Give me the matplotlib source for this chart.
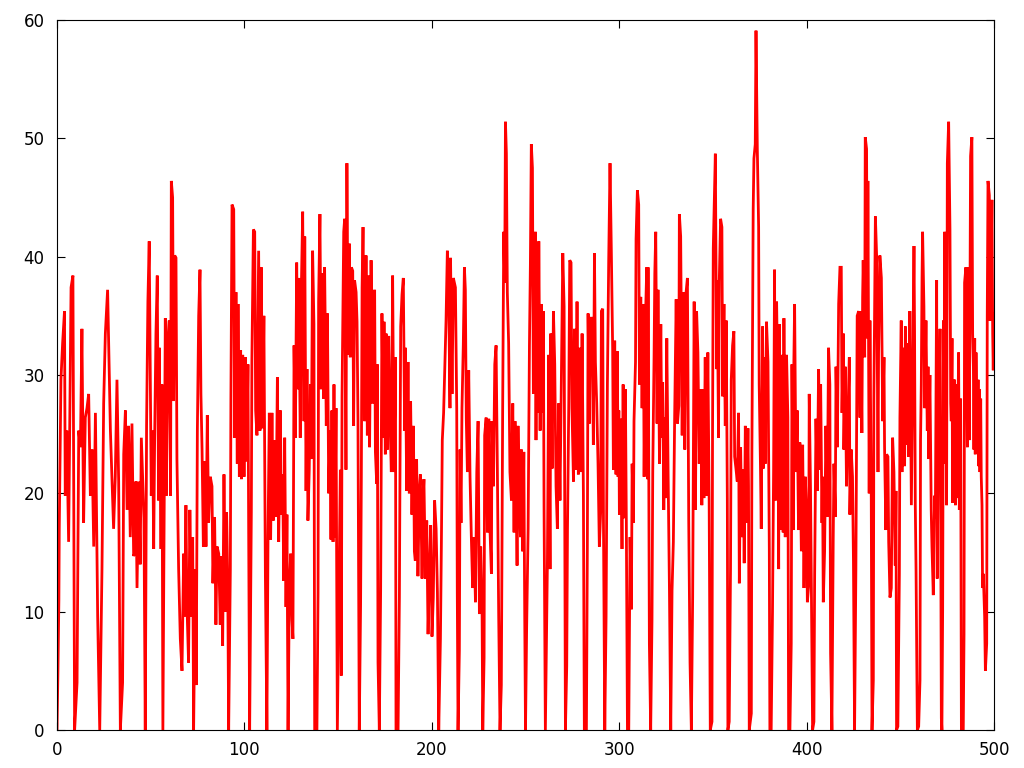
import matplotlib
matplotlib.use("Agg")
import matplotlib.pyplot as plt
import numpy as np

# Series, in consecutive x ranges
x_a = [0, 0.5, 1, 1.2, 2.1, 3, 4, 4.4, 5.2, 6.2, 7.5, 8.5, 9.4, 10.7, 11.6, 12.5, 13.3, 14.2, 15.1, 16, 16.9, 17.8, 18.7, 19.6, 20.5, 21.7, 22.8, 24, 24.9, 25.8, 27, 27.9, 28.5, 29.3, 30.2, 31.1, 32, 32.9, 33.8, 35, 35.6, 36.5, 37.4, 38.2, 39.1, 40, 40.9]
y_a = [0, 5, 11, 17, 29.6, 32.7, 35.4, 19.8, 25.3, 15.9, 37.4, 38.4, 0, 4, 25.3, 23.9, 33.9, 17.5, 26.4, 27.2, 28.4, 19.8, 23.7, 15.5, 26.8, 9.6, 0, 13.6, 27.6, 33.5, 37.2, 30, 25.3, 21.4, 17, 21.4, 29.6, 21, 0, 4, 23.3, 27, 18.6, 25.7, 16.3, 25.9, 14.7]

x_b = [41.4, 42.1, 42.7, 43.6, 44.4, 45, 45.7, 46.4, 47.1, 47.8, 48.5, 49.2, 50, 50.3, 51, 51.6, 52.1, 52.8, 53.5, 54.2, 54.6, 55.5, 56, 56.5, 57.8, 58.3, 59.2, 59.9, 60.6, 61, 61.7, 62.2, 62.8, 63.5, 64, 64.9, 65.8, 66.7, 67.6, 68.1, 68.8, 69.3, 70.2, 70.9, 71.7, 72.4, 72.9, 73.8, 74.3, 74.9, 75.6, 76.3, 76.8, 77.4, 78.1, 78.8, 79.5, 80.2, 80.9, 81.8]
y_b = [14.9, 21, 12, 21, 14, 24.7, 21.4, 17.9, 0, 25.7, 36.2, 41.3, 25.7, 19.8, 25.3, 15.3, 24.5, 33.5, 38.4, 19.4, 32.3, 15.3, 29.2, 0, 34.8, 19.8, 33, 34.6, 19.8, 46.4, 45, 27.8, 40.1, 39.9, 22.9, 13.6, 7.7, 5, 14.9, 9.6, 19, 10.8, 5.7, 18.6, 9.6, 16.3, 0, 13.6, 3.8, 25.3, 35, 38.9, 28.4, 23.7, 15.5, 22.7, 15.5, 26.6, 17.5, 21.4]

x_c = [82.7, 83.2, 84.1, 84.8, 85.4, 86.3, 87.1, 87.7, 88.4, 89.1, 89.8, 90.5, 91.1, 91.6, 92.5, 92.8, 93.4, 94.3, 94.8, 95.5, 96.2, 96.6, 97.3, 98, 98.4, 99.1, 99.8, 100.5, 101.2, 101.9, 102.3, 102.8, 103.7, 104, 104.8, 105.5, 106, 106.7, 107.6, 108.3, 109, 109.7, 110.4, 111.2, 112, 112.6, 113.3, 114, 114.7, 115.4, 116.1, 116.9, 117.6, 118.3, 119.2, 119.7, 120.4, 121, 121.5, 122.2, 122.7, 123.3, 124, 124.7, 125.4]
y_c = [20.6, 12.4, 18, 8.9, 15.5, 14.9, 8.9, 14.7, 7.1, 21.6, 10, 18.4, 12.8, 0, 13.6, 28, 44.4, 44, 24.7, 37, 22.5, 36, 21.4, 32.1, 21.2, 31.7, 21.4, 31.5, 22.7, 30.9, 16.1, 0, 18.4, 31.3, 42.3, 42.1, 27, 24.9, 40.5, 25.3, 39.1, 25.5, 35, 13, 0, 16.3, 26.8, 16.1, 26.8, 17.7, 24.5, 18, 29.8, 15.9, 27, 18.2, 21.6, 12.6, 24.7, 10.4, 18.2, 0, 12.2, 14.9, 9.3]

x_d = [125.9, 126.5, 127.2, 127.9, 128.6, 129, 129.8, 130.4, 131.1, 131.8, 132.2, 132.9, 133.4, 133.9, 134.6, 135.2, 135.7, 136.4, 137.1, 137.5, 138.7, 139.3, 139.6, 140.3, 141, 141.6, 142.3, 142.8, 143.7, 144.3, 145, 145.7, 146.2, 146.7, 147.3, 147.8, 148.3, 148.9, 149.6, 150.3, 151.2, 151.7, 152.1, 153, 153.5, 154.2, 154.7, 155.3, 156, 156.5, 157.1, 157.8, 158.3, 158.8, 159.6, 160.1, 160.6, 161.3, 162, 162.4, 162.8, 163.3, 164.2, 164.9, 165.6, 166.3, 166.8, 167.6, 168.4, 169, 169.5, 169.9]
y_d = [7.7, 32.5, 24.7, 39.5, 28.8, 38.2, 24.7, 37.4, 43.8, 26.1, 41.7, 20.2, 30.5, 17.7, 22, 29.2, 22.9, 40.5, 34.3, 0, 0, 11.6, 36.2, 43.6, 28.8, 38.6, 28, 39.1, 25.7, 35.2, 20, 25.3, 16.1, 27, 15.9, 29.2, 16.3, 27.2, 0, 9.6, 22, 4.6, 28.2, 42.1, 43.2, 22, 47.9, 31.7, 41.1, 31.5, 39.1, 38.8, 25.7, 38, 37, 34.5, 26.3, 0, 10.6, 21.4, 37.4, 42.5, 26.1, 40.1, 24.9, 38.4, 23.9, 39.7, 27.6, 35.8, 37.2, 23.5]

x_e = [170.6, 170.9, 171.3, 172, 172.7, 173.4, 174.1, 174.5, 175.2, 175.6, 176.3, 177, 177.7, 178.4, 179.1, 179.8, 180.6, 180.9, 182, 182.7, 183.4, 184.1, 184.8, 185.5, 185.9, 186.6, 187.3, 188, 188.7, 189.4, 190.2, 190.7, 191.2, 191.9, 192.6, 193.4, 193.9, 194.8, 195.3, 195.8, 196.6, 197.3, 198, 198.7, 199.4, 200.1, 200.8, 201.5, 202.3, 203, 203.7, 204.6, 205.1, 205.6, 206.3, 206.9, 207.6, 208.3, 209, 209.7, 210, 210.8, 211.5]
y_e = [20.8, 30.9, 5.7, 0, 11.8, 35.2, 24.7, 34.5, 23.3, 33.5, 23.7, 33.3, 26.1, 21.8, 38.4, 21.8, 31.5, 0, 0, 11.2, 34.1, 36.8, 38.2, 25.3, 32.3, 20.2, 31.1, 20, 27.8, 18.2, 25.7, 15.1, 14.3, 22.9, 13, 20.4, 21.6, 12.8, 19.4, 21.2, 12.8, 17.7, 8.1, 13.2, 17.3, 7.9, 11.2, 19.4, 17, 11.6, 0, 7.7, 15.5, 24.5, 26.8, 30.4, 34.6, 40.5, 37, 27.2, 39.9, 28.4, 38.2]

x_f = [212.6, 213.3, 213.6, 214, 214.7, 215.1, 215.6, 216.1, 216.8, 217.4, 217.9, 218.4, 219, 219.7, 220.4, 221.1, 221.8, 222.5, 223.3, 224, 224.7, 225.4, 226.1, 226.8, 227.2, 227.9, 228.2, 229, 229.7, 230.4, 231.1, 231.8, 232.1, 232.9, 233.6, 234.3, 235, 235.7, 236.4, 237.1, 237.8, 238.4, 238.9, 239.3, 239.8, 240.3, 241, 241.7, 242.5, 243.2, 243.9, 244.4, 245, 245.5, 246, 246.7, 247.3, 247.8, 248.5, 249.1, 249.6, 250, 250.6, 251.4, 252.1, 252.6, 253.1, 253.7, 254.2]
y_f = [37.4, 27.2, 11.6, 0, 6.7, 23.7, 17.5, 27.2, 32.5, 39.1, 37.2, 26.3, 21.8, 30.4, 21.4, 16.3, 12, 16.3, 10.8, 21.8, 26.1, 9.8, 15.5, 10.8, 0, 6.1, 24.9, 26.4, 16.7, 26.3, 16.7, 13.2, 26.1, 20.6, 30.9, 32.5, 21.8, 9.6, 0, 3.8, 26.8, 42.1, 37.8, 51.4, 48.7, 37, 32.7, 21.8, 19.4, 27.6, 16.7, 26.1, 21, 13.9, 25.7, 19.2, 16.3, 23.7, 15.1, 23.5, 9.3, 0, 8.5, 17, 32.5, 39.3, 49.5, 47.5, 28.4]

x_g = [255.3, 255.6, 256, 256.7, 257.1, 257.8, 258.5, 259.2, 259.5, 259.9, 260.6, 261.3, 261.7, 262.4, 263.1, 263.5, 264.2, 264.9, 265.6, 266.3, 267, 267.7, 268.4, 269.2, 269.9, 270.6, 271.3, 272, 272.4, 273.1, 273.6, 274.3, 274.8, 275.6, 276.1, 276.8, 277.5, 278.2, 278.9, 279.6, 280.2, 280.9, 281.4, 282.5, 283, 283.4, 284.1, 284.6, 285.5, 286.2, 286.8, 287.3, 288, 288.7, 289.4, 290.1, 290.5, 291.2, 291.6, 292.3, 293, 293.7, 294.4, 295.1, 295.8, 296.5, 296.9, 297.6]
y_g = [42.1, 24.5, 38.6, 26.8, 41.3, 25.3, 36, 26.8, 35.4, 18.8, 0, 8.9, 14.3, 31.7, 13.6, 33.5, 22.1, 35.4, 30.9, 20.6, 17, 27.6, 19.4, 30.7, 40.3, 35.8, 0, 5.4, 17, 27.8, 39.7, 39.5, 27.2, 21, 33.9, 22, 36.2, 21.6, 32.3, 21.8, 33.5, 19.8, 0, 0, 15.5, 35.2, 25.9, 34.8, 34.8, 24.1, 40.3, 31.1, 27.6, 22.5, 15.5, 18.4, 35.4, 35.6, 17.7, 0, 9.6, 29.2, 39.7, 47.9, 40.5, 32.3, 22, 32.9]

x_h = [298.3, 299, 299.4, 299.8, 300.1, 300.8, 301.5, 302.1, 302.6, 303.3, 303.8, 304.4, 305.1, 305.8, 306.5, 306.9, 307.6, 307.9, 308.7, 309, 309.7, 310.4, 310.8, 311.5, 312.2, 312.9, 313.3, 314, 314.7, 315.1, 315.4, 316.1, 316.8, 317.5, 317.9, 318.6, 319, 319.5, 320.2, 320.7, 321.5, 322.2, 322.7, 323.2, 323.8, 324.3, 324.7, 325.4, 326.1, 326.8, 327.5, 328.2, 328.9, 329.6, 330.4, 331.1, 331.8, 332.1, 332.8, 333.6, 334.3, 335, 335.7, 336.4, 337.1, 337.8, 338.5, 339.2, 340, 340.7]
y_h = [21.6, 32, 21.4, 27, 18.2, 26.3, 15.3, 29.2, 17.9, 28.8, 17.7, 0, 0, 16.3, 10.2, 22.5, 17.5, 26.1, 31.1, 41.5, 45.6, 44.4, 29.2, 36.6, 27.2, 36, 21.4, 34.6, 39.1, 21.2, 39.1, 7.3, 0, 9.3, 21.8, 31.5, 38.6, 42.1, 25.9, 37.2, 22.5, 34.3, 24.7, 29.4, 18.6, 26.4, 19.6, 33.1, 21.6, 12, 0, 11.8, 15.9, 26.6, 36.4, 25.9, 27.4, 43.6, 41.7, 24.9, 37, 23.7, 37, 38.2, 17.7, 5.7, 0, 11.2, 36.2, 18.6]

x_i = [341.3, 342, 342.7, 343.4, 344.1, 344.5, 345.2, 345.9, 346.6, 347.3, 348, 348.6, 349.5, 349.8, 350.2, 350.9, 351.3, 352, 352.3, 353, 353.4, 354.1, 354.8, 355.2, 355.9, 356.6, 357.1, 357.7, 358, 358.7, 359.4, 359.8, 360.5, 361.2, 361.6, 362.3, 363, 363.7, 364.1, 364.8, 365.5, 366.2, 366.7, 367.3, 368, 368.7, 369, 369.4, 370.5, 370.8, 371.5, 371.9, 372.6, 373, 373.7, 374.4, 374.7, 375.4, 375.8, 376.5, 376.9, 377.2, 377.9, 378.6, 379.4, 380.1, 380.4, 381.1, 381.8, 382.4, 382.9, 383.3]
y_i = [35.4, 31.9, 22.5, 28.8, 19, 28.8, 19.6, 31.5, 19.8, 31.9, 19.4, 0, 0.7, 24.9, 40.7, 45.6, 48.7, 30.5, 38, 24.7, 37.9, 43.2, 42.5, 28.2, 36, 25.7, 34.6, 19.4, 0, 0.7, 13.6, 29.6, 32.5, 33.7, 23.1, 22.1, 21, 26.8, 12.4, 23.9, 16.3, 22, 14.1, 25.7, 17.5, 25.5, 20.6, 0, 1.4, 23.3, 44, 48.3, 49.5, 59.1, 49.1, 42.5, 29.2, 22.1, 17, 34.1, 22.1, 31.5, 22.5, 34.5, 31.1, 15.3, 0, 0, 10, 22.1, 38.9, 19.4]

x_j = [383.6, 384, 384.7, 385.1, 385.4, 386.1, 386.8, 387.5, 387.9, 388.6, 389.3, 390, 390.4, 391.1, 391.8, 392.2, 392.9, 393.2, 393.6, 394.3, 395, 395.7, 396.4, 397.2, 397.9, 398.6, 399.3, 400, 400.4, 401.1, 401.4, 402.1, 402.8, 403.2, 403.9, 404.3, 405, 405.7, 406.4, 407.1, 407.5, 408.2, 408.5, 408.9, 409.6, 410.3, 411, 411.7, 412.4, 412.8, 413.5, 414.2, 414.6, 415.3, 415.7, 416.4, 417.1, 417.8, 418.5, 418.9, 419.6, 419.9, 420.6, 421.3, 422.1, 422.8, 423.1, 423.8, 424.5, 425, 425.6]
y_j = [19.8, 36.2, 27.6, 13.6, 34.3, 16.9, 31.7, 16.7, 34.8, 16.3, 31.7, 26.4, 0, 0, 7.3, 30.9, 16.9, 31.1, 36, 21.8, 27, 16.9, 24.3, 15.1, 24.1, 12, 21.4, 18.4, 10.8, 12.2, 28.4, 20.2, 7.3, 0, 0.7, 13.2, 26.3, 20.2, 30.5, 22, 29.2, 17.5, 21.4, 10.8, 15.1, 25.7, 18, 32.3, 29.2, 6.5, 0, 16.1, 22.5, 18, 30.7, 23.9, 36, 39.1, 39.1, 26.8, 33.5, 23.7, 30.7, 20.6, 26.8, 31.5, 18.2, 23.7, 21.4, 14.3, 0]

x_k = [426.3, 426.7, 427, 427.8, 428.5, 428.8, 429.5, 429.9, 430.2, 431, 431.3, 432, 432.4, 432.7, 433.4, 433.8, 434.5, 434.9, 435.6, 435.9, 436.7, 437.4, 438.1, 438.4, 439.1, 439.9, 440.6, 441.3, 441.6, 442.3, 442.7, 443.4, 443.8, 444.5, 445.2, 445.9, 446.6, 447.3, 447.7, 448, 448.7, 449.5, 449.8, 450.5, 450.9, 451.6, 452.3, 452.7, 453.4, 453.7, 454.4, 455.1, 455.9, 456.6, 457.3, 457.6, 458, 458.4, 459.1, 459.8, 460.5, 460.8, 461.2, 461.6, 461.9, 462.6, 463, 463.7, 464.4, 464.8, 465.1, 465.8, 466.5, 466.9, 467.6, 468.3]
y_k = [13.6, 26.8, 35, 35.4, 26.4, 35.4, 25.1, 36.6, 39.7, 31.5, 50.1, 49.1, 33.1, 46.4, 20, 34.6, 19.8, 0, 4.2, 28, 43.4, 39.9, 21.8, 31.9, 40.1, 38.2, 26.1, 31.5, 23.9, 16.9, 23.3, 23.1, 15.9, 11.2, 12, 24.7, 21.8, 13.9, 20.2, 0, 0.3, 13.2, 26.4, 34.6, 21.8, 32.3, 22.3, 34.1, 24.1, 32.7, 23.1, 35.4, 19, 30.4, 40.9, 33.9, 19, 13.6, 0, 0.3, 4.2, 24.5, 29.2, 38.2, 42.1, 35.8, 27.2, 34.6, 25.3, 30.7, 22.9, 30, 18.6, 15.5, 11.4, 19.8]

x_l = [468.7, 469.4, 469.7, 470.1, 470.5, 471.2, 471.5, 471.9, 472.2, 472.6, 473, 473.3, 473.7, 474, 474.4, 474.7, 475.1, 475.8, 476.5, 476.9, 477.2, 477.6, 477.9, 478.3, 478.6, 479, 479.4, 479.7, 480.1, 480.4, 481.1, 481.5, 482.2, 482.6, 483.6, 484, 484.3, 485, 485.8, 486.1, 486.8, 487.2, 487.5, 488.2, 488.6, 489, 489.3, 489.7, 490, 490.4, 491.1, 491.5, 491.8, 492.2, 492.5, 492.9, 493.2, 493.6, 493.9, 494.3, 495, 495.4, 496.1, 496.4, 496.8, 497.5, 497.9, 498.2, 498.9, 499.3, 499.6, 500]
y_l = [17.9, 38, 12.8, 21.4, 26.1, 33.9, 21.4, 1, 0, 10.2, 34.6, 23.7, 42.1, 22.5, 39.1, 19, 47.9, 51.4, 42.3, 27.6, 26.1, 33.1, 19.2, 29.6, 20.6, 29.6, 19, 21.8, 29.2, 19.6, 31.9, 18.6, 28, 0, 0, 8.1, 37.8, 39.1, 23.9, 39.1, 24.5, 37, 48.5, 50.1, 33.5, 30.7, 23.7, 33.1, 23.3, 31.9, 23.5, 29.6, 22.3, 28.8, 21.8, 28, 21.4, 19, 12, 13.2, 9.6, 5, 7.3, 35, 46.4, 45.2, 34.6, 36.2, 44.8, 33.5, 30.4, 35.2]

x_ticks = [0, 100, 200, 300, 400, 500]
y_ticks = [0, 10, 20, 30, 40, 50, 60]

xs = np.concatenate([x_a, x_b, x_c, x_d, x_e, x_f, x_g, x_h, x_i, x_j, x_k, x_l])
ys = np.concatenate([y_a, y_b, y_c, y_d, y_e, y_f, y_g, y_h, y_i, y_j, y_k, y_l])

plt.rcParams['font.family'] = ['DejaVu Sans']
fig = plt.figure(figsize=(10.24, 7.68), dpi=100)
ax = fig.add_axes([57/1024, 38/768, (994-57)/1024, (730-20)/768])
ax.plot(xs, ys, color='#ff0000', linewidth=2.0, solid_joinstyle='miter')
ax.set_xlim(0, 500)
ax.set_ylim(0, 60)
ax.set_xticks(x_ticks)
ax.set_yticks(y_ticks)
ax.tick_params(direction='in', top=True, right=True, length=6, width=0.8,
               labelsize=12, colors='black')
ax.tick_params(axis='x', pad=8)
ax.tick_params(axis='y', pad=9)
for s in ax.spines.values():
    s.set_linewidth(0.8)
fig.savefig('out.png', dpi=100)
